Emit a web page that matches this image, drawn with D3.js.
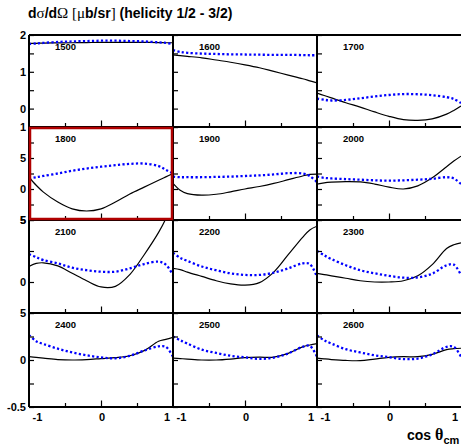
<!DOCTYPE html>
<html><head><meta charset="utf-8">
<script src="https://cdn.jsdelivr.net/npm/d3@7"></script>
<style>
body{margin:0;background:#fff}
svg{display:block}
text{font-family:"Liberation Sans",Arial,sans-serif;font-weight:bold;fill:#000}
</style>
</head><body>
<svg id="c" width="461" height="445"></svg>
<script>
// ---------------- data ----------------
const energies = ["1500","1600","1700","1800","1900","2000","2100","2200","2300","2400","2500","2600"];
const cosGrid = [-1,-0.9,-0.8,-0.6,-0.4,-0.2,0,0.2,0.4,0.6,0.8,0.9,1];

const solid1500  = [1.77,1.775,1.78,1.785,1.79,1.795,1.80,1.80,1.80,1.80,1.795,1.79,1.79];
const dotted1500 = [1.755,1.77,1.785,1.81,1.825,1.835,1.845,1.845,1.835,1.825,1.80,1.785,1.755];
const solid1600  = [1.46,1.44,1.42,1.38,1.32,1.26,1.19,1.11,1.01,0.91,0.81,0.755,0.70];
const dotted1600 = [1.59,1.54,1.515,1.495,1.485,1.475,1.47,1.465,1.46,1.46,1.455,1.45,1.45];
const solid1700  = [0.42,0.355,0.29,0.16,0.04,-0.09,-0.21,-0.30,-0.32,-0.28,-0.15,-0.05,0.07];
const dotted1700 = [0.27,0.24,0.22,0.235,0.28,0.33,0.37,0.395,0.39,0.365,0.31,0.26,0.15];
const solid1800  = [0.19,0.06,-0.05,-0.21,-0.32,-0.355,-0.32,-0.21,-0.08,0.03,0.14,0.195,0.25];
const dotted1800 = [0.17,0.19,0.21,0.25,0.295,0.33,0.36,0.385,0.405,0.41,0.37,0.31,0.25];
const solid1900  = [0.09,-0.02,-0.075,-0.10,-0.085,-0.045,0.0,0.04,0.09,0.15,0.21,0.235,0.24];
const dotted1900 = [0.20,0.19,0.19,0.19,0.195,0.20,0.21,0.22,0.235,0.255,0.25,0.21,0.11];
const solid2000  = [0.08,0.10,0.11,0.12,0.115,0.08,0.03,0.0,0.05,0.18,0.36,0.45,0.53];
const dotted2000 = [0.20,0.18,0.17,0.16,0.15,0.14,0.135,0.14,0.15,0.165,0.19,0.17,0.08];
const solid2100  = [0.125,0.15,0.155,0.13,0.07,0.01,-0.04,-0.035,0.06,0.22,0.40,0.51,0.65];
const dotted2100 = [0.225,0.20,0.177,0.15,0.115,0.095,0.083,0.083,0.11,0.145,0.164,0.14,0.056];
const solid2200  = [0.11,0.10,0.08,0.045,0.01,-0.015,-0.025,-0.005,0.08,0.22,0.36,0.42,0.45];
const dotted2200 = [0.235,0.195,0.17,0.125,0.095,0.07,0.057,0.057,0.075,0.11,0.15,0.145,0.04];
const solid2300  = [0.07,0.06,0.05,0.03,0.01,0.0,0.0,0.01,0.05,0.14,0.27,0.30,0.315];
const dotted2300 = [0.25,0.215,0.185,0.135,0.095,0.07,0.05,0.035,0.037,0.067,0.135,0.14,0.056];
const solid2400  = [0.035,0.027,0.02,0.005,0.0,0.005,0.015,0.025,0.045,0.10,0.20,0.22,0.24];
const dotted2400 = [0.266,0.20,0.17,0.12,0.08,0.05,0.028,0.018,0.045,0.10,0.145,0.14,0.035];
const solid2500  = [0.02,0.015,0.01,0.0,0.0,0.01,0.025,0.03,0.03,0.07,0.14,0.16,0.175];
const dotted2500 = [0.25,0.21,0.175,0.11,0.075,0.045,0.028,0.012,0.025,0.07,0.14,0.15,0.035];
const solid2600  = [0.02,0.012,0.005,-0.005,-0.007,0.01,0.028,0.035,0.035,0.06,0.11,0.12,0.125];
const dotted2600 = [0.26,0.21,0.175,0.115,0.08,0.05,0.03,0.01,0.015,0.06,0.14,0.14,0.035];

const solidSeries  = [solid1500,solid1600,solid1700,solid1800,solid1900,solid2000,solid2100,solid2200,solid2300,solid2400,solid2500,solid2600];
const dottedSeries = [dotted1500,dotted1600,dotted1700,dotted1800,dotted1900,dotted2000,dotted2100,dotted2200,dotted2300,dotted2400,dotted2500,dotted2600];

// per-row y ranges and ticks
const rowDomains = [[-0.5,2],[-0.5,1],[-0.25,0.5],[-0.5,0.5]];
const rowTicks = [[2,1.5,1,0.5,0,-0.5],[1,0.75,0.5,0.25,0,-0.25,-0.5],[0.5,0.25,0,-0.25],[0.5,0.25,0,-0.25,-0.5]];
const rowLabelValues = [[2,1,0],[1,0.5,0,-0.5],[0.5,0],[0.5,0,-0.5]];
const rowLabelTexts  = [["2","1","0"],["1","5","0","5"],["5","0"],["5","0","-0.5"]];
const xTickMinor = [-0.5,0.5];
const xTickMajor = [0];
const xLabelValues = [-1,0,1];
const xLabelTexts = ["-1","0","1"];
const highlighted = "1800";

// ---------------- layout ----------------
const svg = d3.select("#c");
const colLeft = [29,173,317];
const colW = 144;
const rowTop = [35,127,220,313];
const rowBot = [127,220,313,407];

const xScales = colLeft.map(l => d3.scaleLinear().domain([-1,1]).range([l, l+colW]));
const yScales = rowDomains.map((d,i) => d3.scaleLinear().domain(d).range([rowBot[i], rowTop[i]]));

const defs = svg.append("defs");
const line = (xs, ys) => d3.line().x(d=>xs(d[0])).y(d=>ys(d[1])).curve(d3.curveCatmullRom.alpha(0.5));

energies.forEach((e,i) => {
  const r = Math.floor(i/3), c = i%3;
  const xs = xScales[c], ys = yScales[r];
  const cid = "clip"+i;
  defs.append("clipPath").attr("id",cid).append("rect")
    .attr("x",colLeft[c]).attr("y",rowTop[r]).attr("width",colW).attr("height",rowBot[r]-rowTop[r]);
  const g = svg.append("g").attr("clip-path",`url(#${cid})`);
  const dotted = cosGrid.map((x,k)=>[x, dottedSeries[i][k]]);
  const solid  = cosGrid.map((x,k)=>[x, solidSeries[i][k]]);
  g.append("path").attr("d", line(xs,ys)(solid)).attr("fill","none").attr("stroke","#000").attr("stroke-width",1.2);
  g.append("path").attr("d", line(xs,ys)(dotted)).attr("fill","none").attr("stroke","#0000ff")
    .attr("stroke-width",2.3).attr("stroke-dasharray","2.2,2.3");
  svg.append("text").attr("x",colLeft[c]+26).attr("y",rowTop[r]+15).attr("font-size",9.5).text(e);

  // ticks
  const ya = svg.append("g").attr("transform",`translate(${colLeft[c]},0)`)
    .call(d3.axisRight(ys).tickValues(rowTicks[r]).tickSize(5).tickFormat(""));
  ya.select(".domain").remove();
  ya.selectAll("line").attr("stroke","#000").attr("stroke-width",1.2);
  const xa1 = svg.append("g").attr("transform",`translate(0,${rowBot[r]})`)
    .call(d3.axisTop(xs).tickValues(xTickMinor).tickSize(4).tickFormat(""));
  const xa2 = svg.append("g").attr("transform",`translate(0,${rowBot[r]})`)
    .call(d3.axisTop(xs).tickValues(xTickMajor).tickSize(6.5).tickFormat(""));
  [xa1,xa2].forEach(a=>{a.select(".domain").remove(); a.selectAll("line").attr("stroke","#000").attr("stroke-width",1.2);});
});

// frame lines
rowTop.concat([407]).forEach(y => {
  svg.append("line").attr("x1",colLeft[0]).attr("x2",461).attr("y1",y).attr("y2",y)
    .attr("stroke","#000").attr("stroke-width",2);
});
colLeft.forEach(x => {
  svg.append("line").attr("x1",x).attr("x2",x).attr("y1",rowTop[0]).attr("y2",407)
    .attr("stroke","#000").attr("stroke-width",2);
});

// highlight box
{
  const i = energies.indexOf(highlighted), r = Math.floor(i/3), c = i%3;
  svg.append("rect").attr("x",colLeft[c]+1).attr("y",rowTop[r]+1)
    .attr("width",colW-2).attr("height",rowBot[r]-rowTop[r]-2)
    .attr("fill","none").attr("stroke","#b00000").attr("stroke-width",2.5);
}

// y labels (left column)
rowDomains.forEach((d,r) => {
  rowLabelValues[r].forEach((v,k) => {
    svg.append("text").attr("x",26).attr("y",yScales[r](v)).attr("dy","0.36em")
      .attr("text-anchor","end").attr("font-size",11).text(rowLabelTexts[r][k]);
  });
});

// x labels
const xLabelShift = [8.5, 1, -6];
xScales.forEach(xs => {
  xLabelValues.forEach((v,k) => {
    svg.append("text").attr("x",xs(v)+xLabelShift[k]).attr("y",421).attr("text-anchor","middle")
      .attr("font-size",11).text(xLabelTexts[k]);
  });
});

// title
const t = svg.append("text").attr("x",28).attr("y",18).attr("font-size",14);
const serif = s => t.append("tspan").attr("font-family","Liberation Serif").attr("font-weight","normal").attr("font-size",15).text(s);
t.append("tspan").text("d");
serif("σ");
t.append("tspan").text("/d");
serif("Ω [μ");
t.append("tspan").text("b/sr");
serif("]");
t.append("tspan").text(" (helicity 1/2 - 3/2)");

// x axis title
const xt = svg.append("text").attr("x",407).attr("y",440).attr("font-size",14);
xt.append("tspan").text("cos ");
xt.append("tspan").attr("font-family","Liberation Serif").attr("font-size",16).text("θ");
xt.append("tspan").attr("font-size",11).attr("dy",4).text("cm");
</script>
</body></html>
